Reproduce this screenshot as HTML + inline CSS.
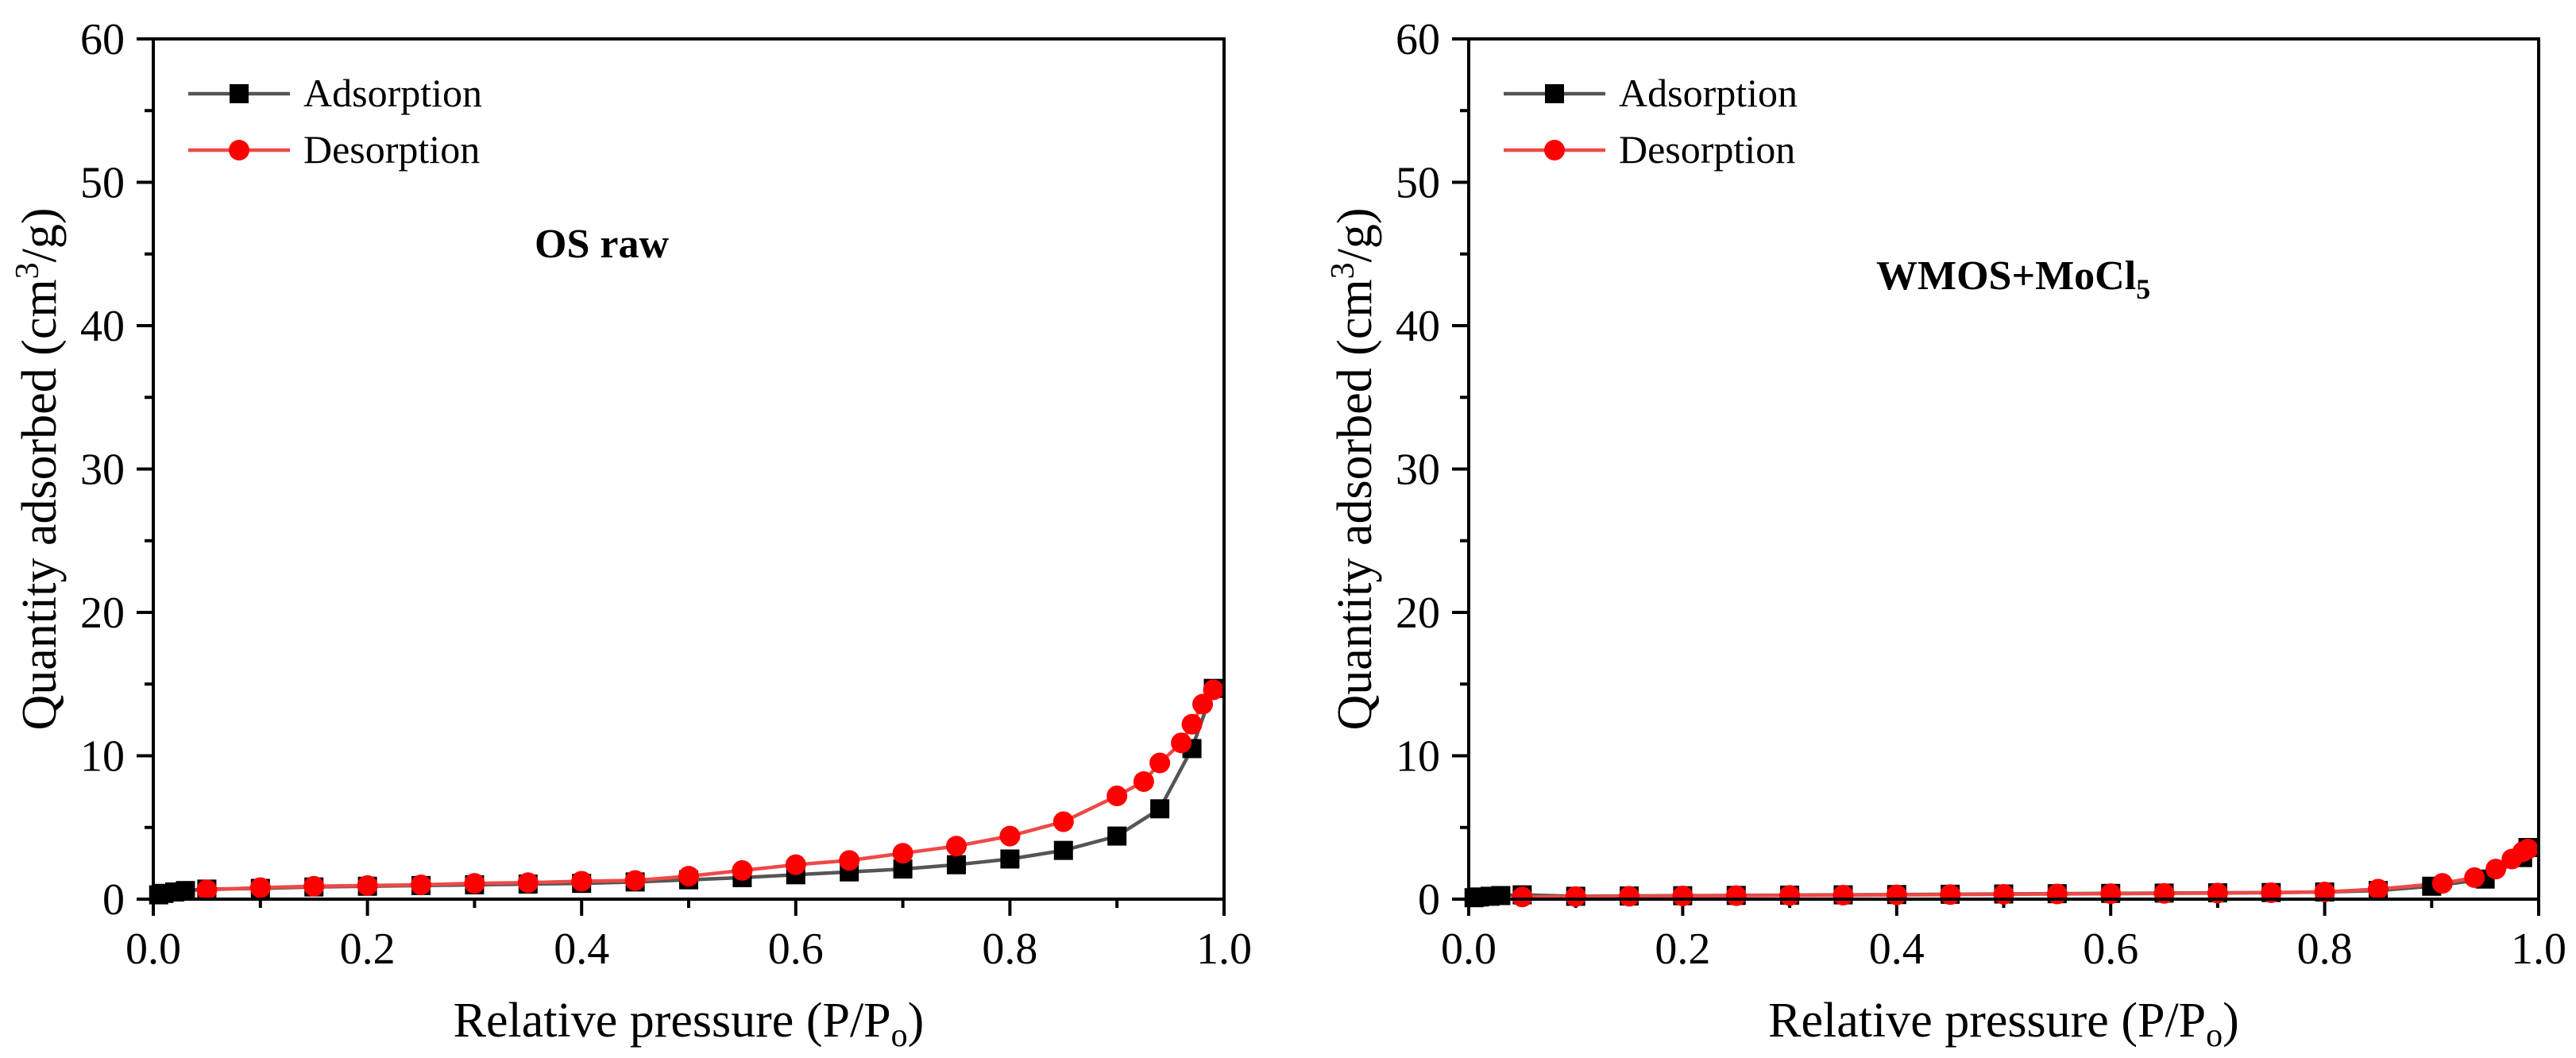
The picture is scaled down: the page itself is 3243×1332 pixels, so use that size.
<!DOCTYPE html>
<html><head><meta charset="utf-8"><style>
html,body{margin:0;padding:0;background:#fff;}
svg{display:block;}
svg text{font-family:"Liberation Serif","Times New Roman",serif;}
</style></head><body>
<svg id="chart" width="3243" height="1332" viewBox="0 0 3243 1332"></svg>
<script>
// OS raw panel data
const osAdsX = [0.005,0.01,0.02,0.03,0.05,0.1,0.15,0.2,0.25,0.3,0.35,0.4,0.45,0.5,0.55,0.6,0.65,0.7,0.75,0.8,0.85,0.9,0.94,0.97,0.99];
const osAdsY = [0.3,0.4,0.5,0.6,0.7,0.75,0.85,0.9,0.95,1.0,1.05,1.1,1.2,1.35,1.5,1.7,1.9,2.1,2.4,2.8,3.4,4.4,6.3,10.5,14.7];
const osDesX = [0.99,0.98,0.97,0.96,0.94,0.925,0.9,0.85,0.8,0.75,0.7,0.65,0.6,0.55,0.5,0.45,0.4,0.35,0.3,0.25,0.2,0.15,0.1,0.05];
const osDesY = [14.6,13.6,12.2,10.9,9.5,8.2,7.2,5.4,4.4,3.7,3.2,2.7,2.4,2.0,1.6,1.3,1.25,1.15,1.1,1.0,0.95,0.9,0.8,0.65];
// WMOS+MoCl5 panel data
const wmAdsX = [0.005,0.01,0.02,0.03,0.05,0.1,0.15,0.2,0.25,0.3,0.35,0.4,0.45,0.5,0.55,0.6,0.65,0.7,0.75,0.8,0.85,0.9,0.95,0.985,0.99];
const wmAdsY = [0.1,0.15,0.2,0.25,0.3,0.2,0.22,0.24,0.26,0.28,0.3,0.32,0.34,0.36,0.38,0.4,0.42,0.44,0.46,0.5,0.6,0.9,1.4,2.9,3.6];
const wmDesX = [0.99,0.985,0.975,0.96,0.94,0.91,0.85,0.8,0.75,0.7,0.65,0.6,0.55,0.5,0.45,0.4,0.35,0.3,0.25,0.2,0.15,0.1,0.05];
const wmDesY = [3.5,3.3,2.8,2.1,1.5,1.1,0.7,0.5,0.45,0.42,0.4,0.38,0.36,0.34,0.32,0.3,0.28,0.26,0.24,0.22,0.2,0.18,0.15];
const xTicks = [0.0,0.2,0.4,0.6,0.8,1.0];
const xTickLabels = ["0.0","0.2","0.4","0.6","0.8","1.0"];
const yTicks = [0,10,20,30,40,50,60];
const yTickLabels = ["0","10","20","30","40","50","60"];

const NS="http://www.w3.org/2000/svg";
const FONT='"Liberation Serif", "Times New Roman", serif';
const svg=document.getElementById('chart');
function mk(tag,attrs,parent){const e=document.createElementNS(NS,tag);for(const k in attrs)e.setAttribute(k,attrs[k]);if(tag==='text')e.setAttribute('font-family',FONT);(parent||svg).appendChild(e);return e;}

function panel(id,x0,x1,ads,des,title,sub,titleX){
  const y0=49,y1=1132;
  const g=mk('g',{});
  
  
  const sx=v=>x0+v*(x1-x0);
  const sy=v=>y1-v/60*(y1-y0);
  for(let i=0;i<=10;i++){const v=i/10;const t=mk('line',{x1:sx(v),x2:sx(v),y1:y1,y2:y1+(i%2?11:21),stroke:'#000','stroke-width':4},g);
    
    }
  for(let i=0;i<=12;i++){const v=i*5;const t=mk('line',{x1:x0,x2:x0-(i%2?11:21),y1:sy(v),y2:sy(v),stroke:'#000','stroke-width':4},g);
    
    }
  xTicks.forEach((v,i)=>{const t=mk('text',{x:sx(v),y:1213,'font-size':56,'text-anchor':'middle'},g);t.textContent=xTickLabels[i];
    
    });
  yTicks.forEach((v,i)=>{const t=mk('text',{x:x0-36,y:sy(v)+19,'font-size':56,'text-anchor':'end'},g);t.textContent=yTickLabels[i];
    
    });
  const xt=mk('text',{x:(x0+x1)/2,y:1305,'font-size':62,'text-anchor':'middle'},g);
  xt.innerHTML='Relative pressure (P/P<tspan font-size="42" dy="12">o</tspan><tspan dy="-12">)</tspan>';
  
  
  const cy=(y0+y1)/2;
  const yt=mk('text',{x:0,y:0,'font-size':62,'text-anchor':'middle',transform:`translate(${x0-123},${cy}) rotate(-90)`},g);
  yt.innerHTML='Quantity adsorbed (cm<tspan font-size="42" dy="-22">3</tspan><tspan dy="22">/g)</tspan>';
  
  
  const line=(xs,ys,col,name)=>{const p=mk('polyline',{points:xs.map((x,i)=>sx(x)+','+sy(ys[i])).join(' '),fill:'none',stroke:col,'stroke-width':4.5},g);
    
    };
  line(ads[0],ads[1],'#555','adsorption-line');
  line(des[0],des[1],'#f04848','desorption-line');
  ads[0].forEach((x,i)=>{const r=mk('rect',{x:sx(x)-12,y:sy(ads[1][i])-12,width:24,height:24,fill:'#000'},g);
    
    });
  des[0].forEach((x,i)=>{const c=mk('circle',{cx:sx(x),cy:sy(des[1][i]),r:13,fill:'#ff0000'},g);
    
    });
  const f=mk('rect',{x:x0,y:y0,width:x1-x0,height:y1-y0,fill:'none',stroke:'#000','stroke-width':4},g);
  
  
  const lx=x0+44;
  [['Adsorption','#555','sq',118],['Desorption','#f04848','ci',189]].forEach(([lab,col,m,y])=>{
    const lg=mk('g',{},g);
    
    
    mk('line',{x1:lx,x2:lx+128,y1:y,y2:y,stroke:col,'stroke-width':4.5},lg);
    if(m==='sq')mk('rect',{x:lx+52,y:y-12,width:24,height:24,fill:'#000'},lg);
    else mk('circle',{cx:lx+64,cy:y,r:13,fill:'#ff0000'},lg);
    const t=mk('text',{x:lx+145,y:y+16,'font-size':50},lg);t.textContent=lab;
  });
  const tt=mk('text',{x:titleX,y:324+(sub?40:0),'font-size':52,'font-weight':'bold'},g);
  tt.innerHTML=title+(sub?'<tspan font-size="36" dy="12">'+sub+'</tspan>':'');
  
  
}
panel('os-raw',193,1541,[osAdsX,osAdsY],[osDesX,osDesY],'OS raw','',673);
panel('wmos-mocl5',1849,3196,[wmAdsX,wmAdsY],[wmDesX,wmDesY],'WMOS+MoCl','5',2362);
</script>
</body></html>
